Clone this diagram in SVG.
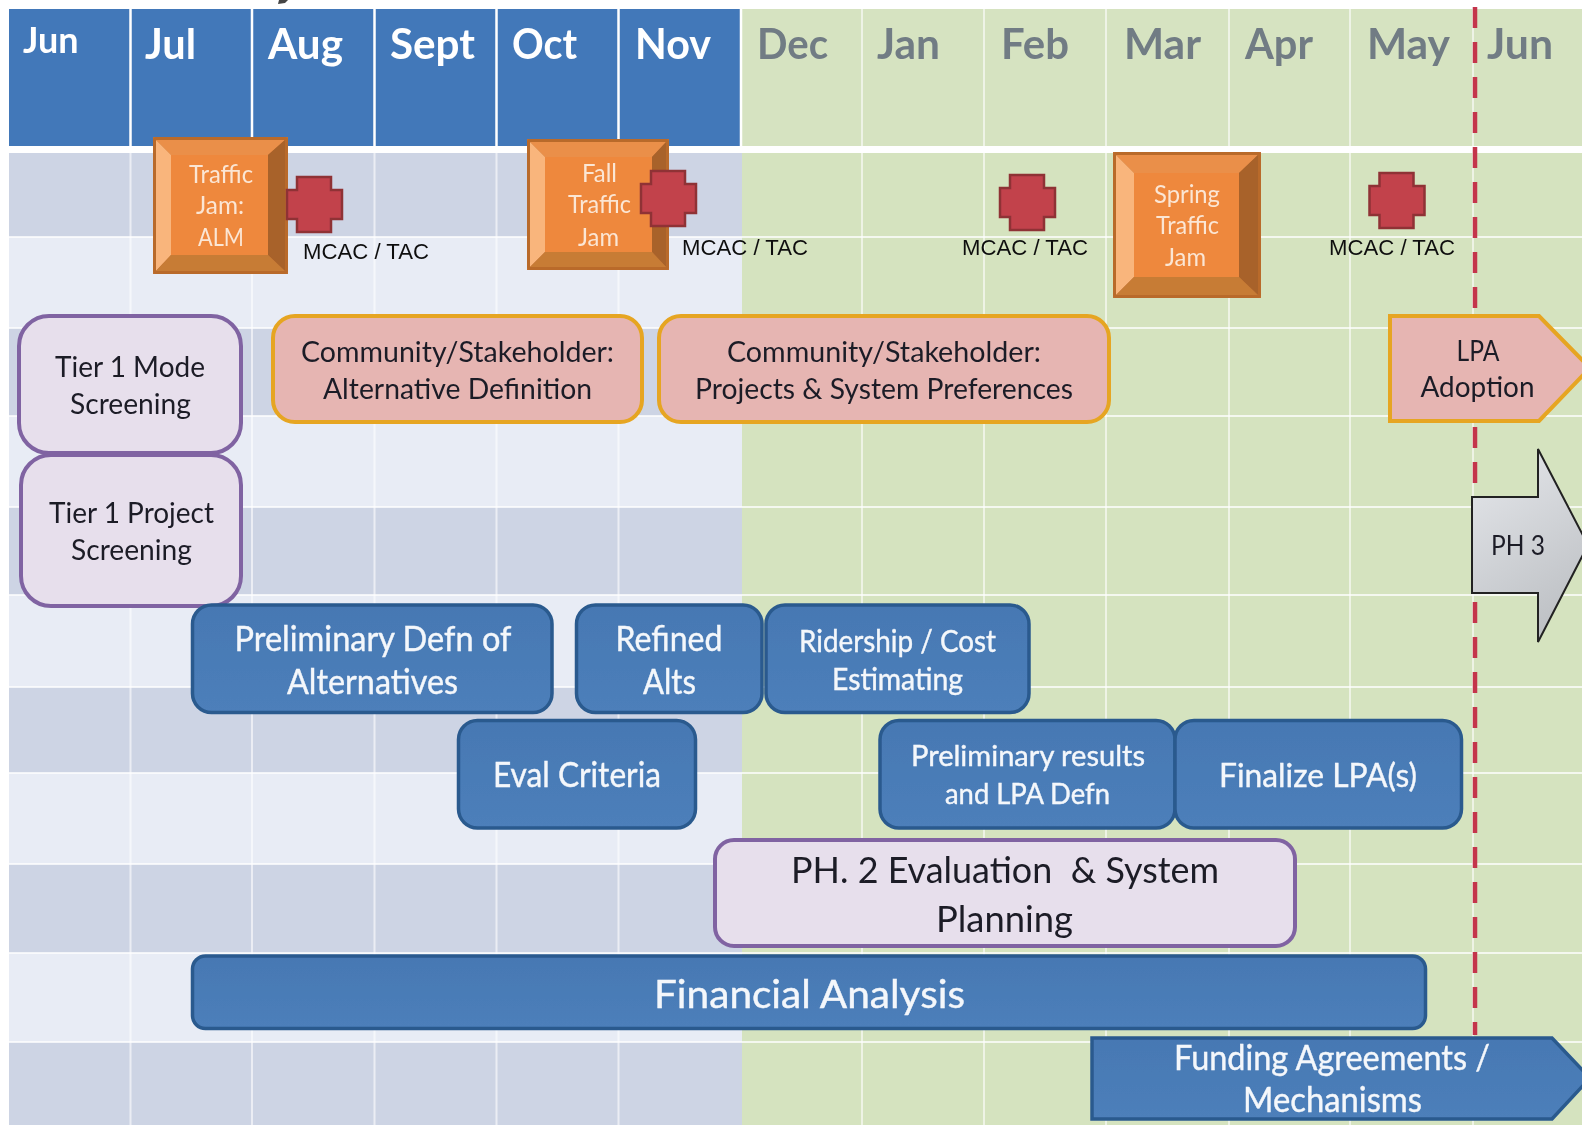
<svg xmlns="http://www.w3.org/2000/svg" width="1582" height="1125" viewBox="0 0 1582 1125">
<style>
text{font-family:"Lato","Carlito","Open Sans",sans-serif;text-anchor:middle}
.mo{font-size:42px;font-weight:700;text-anchor:start;fill:#fff}
.mg{fill:#717c84}
.dk{fill:#1d1d28}
.wh{fill:#f4f7fb;stroke:#f4f7fb;stroke-width:.4}
.ps{fill:#fbe6d4;font-size:25px}
.mc{font-family:"Liberation Sans",Arial,sans-serif;font-size:21.5px;fill:#111}
.blue{fill:url(#bl);stroke:#2a5a8e;stroke-width:3.5}
.purp{fill:#e7dfec;stroke:#8064a2;stroke-width:4}
.pink{fill:#e6b5b2;stroke:#e6a520;stroke-width:4}
.cross{fill:#c2424c;stroke:#8f3136;stroke-width:2.5}
.vh{stroke:#fff;stroke-width:2.5}
.vl{stroke:#fff;stroke-width:2;opacity:.6}
.hl{stroke:#fff;stroke-width:2;opacity:.75}
.edge{fill:none;stroke:#b96a2c;stroke-width:3;stroke-linejoin:round}
</style>
<defs>
<linearGradient id="bl" x1="0" y1="0" x2="0" y2="1"><stop offset="0" stop-color="#4678b3"/><stop offset="1" stop-color="#4d7fba"/></linearGradient>
<linearGradient id="gy" x1="0" y1="0" x2="0.4" y2="1"><stop offset="0" stop-color="#e6e8ec"/><stop offset="1" stop-color="#bfc2c6"/></linearGradient>
<filter id="soft" x="0" y="0" width="100%" height="100%"><feGaussianBlur stdDeviation="0.5"/></filter>
<polygon id="crs" points="11,1 45,1 45,14 56,14 56,43 45,43 45,56 11,56 11,43 1,43 1,14 11,14" class="cross"/>
</defs>
<rect width="1582" height="1125" fill="#fff"/>
<g filter="url(#soft)">
<g id="background">
<rect x="9" y="9" width="733" height="137" fill="#4378b9"/>
<rect x="742" y="9" width="840" height="137" fill="#d6e3c1"/>
<rect x="9" y="153" width="733" height="972" fill="#e8ecf5"/>
<g fill="#cdd4e4">
<rect x="9" y="153" width="733" height="84"/>
<rect x="9" y="328" width="733" height="88"/>
<rect x="9" y="507" width="733" height="88"/>
<rect x="9" y="687" width="733" height="86"/>
<rect x="9" y="864" width="733" height="89"/>
<rect x="9" y="1042" width="733" height="83"/>
</g>
<rect x="742" y="153" width="840" height="972" fill="#d5e3bf"/>
<rect x="9" y="146" width="1573" height="7" fill="#fff"/>
<g class="vh">
<line x1="130.500" y1="9" x2="130.500" y2="146"/><line x1="252" y1="9" x2="252" y2="146"/><line x1="374.500" y1="9" x2="374.500" y2="146"/><line x1="496.500" y1="9" x2="496.500" y2="146"/><line x1="618.500" y1="9" x2="618.500" y2="146"/><line x1="741" y1="9" x2="741" y2="146"/>
</g>
<g class="vl">
<line x1="130.500" y1="153" x2="130.500" y2="1125"/><line x1="252" y1="153" x2="252" y2="1125"/><line x1="374.500" y1="153" x2="374.500" y2="1125"/><line x1="496.500" y1="153" x2="496.500" y2="1125"/><line x1="618.500" y1="153" x2="618.500" y2="1125"/><line x1="862" y1="9" x2="862" y2="1125"/><line x1="984" y1="9" x2="984" y2="1125"/><line x1="1106" y1="9" x2="1106" y2="1125"/><line x1="1229" y1="9" x2="1229" y2="1125"/><line x1="1350" y1="9" x2="1350" y2="1125"/><line x1="1473" y1="9" x2="1473" y2="1125"/>
</g>
<g class="hl">
<line x1="9" y1="237" x2="1582" y2="237"/><line x1="9" y1="328" x2="1582" y2="328"/><line x1="9" y1="416" x2="1582" y2="416"/><line x1="9" y1="507" x2="1582" y2="507"/><line x1="9" y1="595" x2="1582" y2="595"/><line x1="9" y1="687" x2="1582" y2="687"/><line x1="9" y1="773" x2="1582" y2="773"/><line x1="9" y1="864" x2="1582" y2="864"/><line x1="9" y1="953" x2="1582" y2="953"/><line x1="9" y1="1042" x2="1582" y2="1042"/>
</g>
<polygon id="top-mark" points="279,0 288,0 285,3 278,4" fill="#444"/>
</g>
<g id="months">
<text class="mo" x="23" y="53" style="font-size:36px" textLength="55.500" lengthAdjust="spacingAndGlyphs">Jun</text>
<text class="mo" x="145" y="59" textLength="51" lengthAdjust="spacingAndGlyphs">Jul</text>
<text class="mo" x="268" y="59" textLength="75" lengthAdjust="spacingAndGlyphs">Aug</text>
<text class="mo" x="390" y="59" textLength="85" lengthAdjust="spacingAndGlyphs">Sept</text>
<text class="mo" x="512" y="59" textLength="65" lengthAdjust="spacingAndGlyphs">Oct</text>
<text class="mo" x="635" y="59" textLength="76" lengthAdjust="spacingAndGlyphs">Nov</text>
<text class="mo mg" x="757" y="59" textLength="71" lengthAdjust="spacingAndGlyphs">Dec</text>
<text class="mo mg" x="877" y="59" textLength="63" lengthAdjust="spacingAndGlyphs">Jan</text>
<text class="mo mg" x="1001" y="59" textLength="68" lengthAdjust="spacingAndGlyphs">Feb</text>
<text class="mo mg" x="1124" y="59" textLength="77" lengthAdjust="spacingAndGlyphs">Mar</text>
<text class="mo mg" x="1245" y="59" textLength="68" lengthAdjust="spacingAndGlyphs">Apr</text>
<text class="mo mg" x="1367" y="59" textLength="83" lengthAdjust="spacingAndGlyphs">May</text>
<text class="mo mg" x="1487" y="59" textLength="66" lengthAdjust="spacingAndGlyphs">Jun</text>
</g>
<g id="connectors">
<line id="lpa-deadline" x1="1475" y1="7" x2="1475" y2="1035" stroke="#c4354b" stroke-width="4.500" stroke-dasharray="21 14"/>
</g>
<g id="traffic-jam-alm">
<rect x="153" y="137" width="135" height="137" fill="#c07030"/>
<polygon points="155,139 286,139 268,155 171,155" fill="#ea8f4a"/>
<polygon points="155,139 171,155 171,255 155,272" fill="#f9b57c"/>
<polygon points="286,139 286,272 268,255 268,155" fill="#a8622a"/>
<polygon points="155,272 171,255 268,255 286,272" fill="#c77b36"/>
<rect x="171" y="155" width="97" height="100" fill="#ee883e"/>
<rect class="edge" x="154.500" y="138.500" width="132" height="134" rx="2"/>
<text class="ps" x="221" y="183" textLength="64" lengthAdjust="spacingAndGlyphs">Traffic</text>
<text class="ps" x="220" y="214" textLength="48" lengthAdjust="spacingAndGlyphs">Jam:</text>
<text class="ps" x="221" y="246" textLength="46" lengthAdjust="spacingAndGlyphs">ALM</text>
</g>
<g id="traffic-jam-fall">
<rect x="527" y="139" width="142" height="131" fill="#c07030"/>
<polygon points="529,141 667,141 652,157 545,157" fill="#ea8f4a"/>
<polygon points="529,141 545,157 545,252 529,268" fill="#f9b57c"/>
<polygon points="667,141 667,268 652,252 652,157" fill="#a8622a"/>
<polygon points="529,268 545,252 652,252 667,268" fill="#c77b36"/>
<rect x="545" y="157" width="107" height="95" fill="#ee883e"/>
<rect class="edge" x="528.500" y="140.500" width="139" height="128" rx="2"/>
<text class="ps" x="599.500" y="182" textLength="35" lengthAdjust="spacingAndGlyphs">Fall</text>
<text class="ps" x="599.500" y="213" textLength="63" lengthAdjust="spacingAndGlyphs">Traffic</text>
<text class="ps" x="598.500" y="246" textLength="41" lengthAdjust="spacingAndGlyphs">Jam</text>
</g>
<g id="traffic-jam-spring">
<rect x="1113" y="152" width="148" height="146" fill="#c07030"/>
<polygon points="1115,154 1259,154 1239,173 1134,173" fill="#ea8f4a"/>
<polygon points="1115,154 1134,173 1134,277 1115,296" fill="#f9b57c"/>
<polygon points="1259,154 1259,296 1239,277 1239,173" fill="#a8622a"/>
<polygon points="1115,296 1134,277 1239,277 1259,296" fill="#c77b36"/>
<rect x="1134" y="173" width="105" height="104" fill="#ee883e"/>
<rect class="edge" x="1114.500" y="153.500" width="145" height="143" rx="2"/>
<text class="ps" x="1187" y="203" textLength="66" lengthAdjust="spacingAndGlyphs">Spring</text>
<text class="ps" x="1187.500" y="234" textLength="63" lengthAdjust="spacingAndGlyphs">Traffic</text>
<text class="ps" x="1185.500" y="266" textLength="41" lengthAdjust="spacingAndGlyphs">Jam</text>
</g>
<g id="mcac-1"><use href="#crs" x="286" y="176"/><text class="mc" x="366" y="259" textLength="126" lengthAdjust="spacingAndGlyphs">MCAC / TAC</text></g>
<g id="mcac-2"><use href="#crs" x="640" y="170"/><text class="mc" x="745" y="255" textLength="126" lengthAdjust="spacingAndGlyphs">MCAC / TAC</text></g>
<g id="mcac-3"><use href="#crs" x="999" y="174"/><text class="mc" x="1025" y="255" textLength="126" lengthAdjust="spacingAndGlyphs">MCAC / TAC</text></g>
<g id="mcac-4"><use href="#crs" x="1368.500" y="172"/><text class="mc" x="1392" y="255" textLength="126" lengthAdjust="spacingAndGlyphs">MCAC / TAC</text></g>
<g id="tier1-mode">
<rect class="purp" x="19" y="316" width="222" height="137" rx="30"/>
<text class="dk" style="font-size:29px" x="130" y="377" textLength="150" lengthAdjust="spacingAndGlyphs">Tier 1 Mode</text>
<text class="dk" style="font-size:29px" x="130.500" y="414" textLength="121" lengthAdjust="spacingAndGlyphs">Screening</text>
</g>
<g id="tier1-project">
<rect class="purp" x="21" y="455" width="220" height="151" rx="30"/>
<text class="dk" style="font-size:29px" x="131.500" y="523" textLength="165" lengthAdjust="spacingAndGlyphs">Tier 1 Project</text>
<text class="dk" style="font-size:29px" x="131.500" y="560" textLength="121" lengthAdjust="spacingAndGlyphs">Screening</text>
</g>
<g id="community-alternative">
<rect class="pink" x="273" y="316" width="369" height="106" rx="22"/>
<text class="dk" style="font-size:29px" x="457.500" y="362" textLength="313" lengthAdjust="spacingAndGlyphs">Community/Stakeholder:</text>
<text class="dk" style="font-size:29px" x="457.500" y="399" textLength="269" lengthAdjust="spacingAndGlyphs">Alternative Definition</text>
</g>
<g id="community-projects">
<rect class="pink" x="659" y="316" width="450" height="106" rx="22"/>
<text class="dk" style="font-size:29px" x="884" y="362" textLength="314" lengthAdjust="spacingAndGlyphs">Community/Stakeholder:</text>
<text class="dk" style="font-size:29px" x="884" y="399" textLength="378" lengthAdjust="spacingAndGlyphs">Projects &amp; System Preferences</text>
</g>
<g id="lpa-adoption">
<polygon class="pink" points="1390,316 1539,316 1590,368 1539,421 1390,421"/>
<text class="dk" style="font-size:28px" x="1478" y="361" textLength="43" lengthAdjust="spacingAndGlyphs">LPA</text>
<text class="dk" style="font-size:28px" x="1477.500" y="397" textLength="114" lengthAdjust="spacingAndGlyphs">Adoption</text>
</g>
<g id="ph3">
<polygon points="1472,497 1538,497 1538,449 1588,545 1538,642 1538,593 1472,593" fill="url(#gy)" stroke="#222" stroke-width="2"/>
<text class="dk" style="font-size:27px" x="1518" y="555" textLength="54" lengthAdjust="spacingAndGlyphs">PH 3</text>
</g>
<g id="prelim-defn">
<rect class="blue" x="192.500" y="605" width="359.500" height="107.500" rx="19"/>
<text class="wh" style="font-size:34px" x="373" y="651" textLength="277" lengthAdjust="spacingAndGlyphs">Preliminary Defn of</text>
<text class="wh" style="font-size:34px" x="372.500" y="694" textLength="171" lengthAdjust="spacingAndGlyphs">Alternatives</text>
</g>
<g id="refined-alts">
<rect class="blue" x="576.500" y="605" width="185.500" height="107.500" rx="19"/>
<text class="wh" style="font-size:34px" x="669" y="651" textLength="107" lengthAdjust="spacingAndGlyphs">Refined</text>
<text class="wh" style="font-size:34px" x="669.500" y="694" textLength="53" lengthAdjust="spacingAndGlyphs">Alts</text>
</g>
<g id="ridership-cost">
<rect class="blue" x="766" y="605" width="263" height="107.500" rx="19"/>
<text class="wh" style="font-size:30px" x="897.500" y="652" textLength="197" lengthAdjust="spacingAndGlyphs">Ridership / Cost</text>
<text class="wh" style="font-size:30px" x="897.500" y="690" textLength="131" lengthAdjust="spacingAndGlyphs">Estimating</text>
</g>
<g id="eval-criteria">
<rect class="blue" x="458.500" y="720.500" width="237" height="107.500" rx="19"/>
<text class="wh" style="font-size:34px" x="577" y="787" textLength="168" lengthAdjust="spacingAndGlyphs">Eval Criteria</text>
</g>
<g id="prelim-results">
<rect class="blue" x="880" y="720.500" width="295" height="107.500" rx="19"/>
<text class="wh" style="font-size:29px" x="1028" y="766" textLength="234" lengthAdjust="spacingAndGlyphs">Preliminary results</text>
<text class="wh" style="font-size:29px" x="1027.500" y="804" textLength="165" lengthAdjust="spacingAndGlyphs">and LPA Defn</text>
</g>
<g id="finalize-lpa">
<rect class="blue" x="1175" y="720.500" width="286.500" height="107.500" rx="19"/>
<text class="wh" style="font-size:33px" x="1318" y="787" textLength="198" lengthAdjust="spacingAndGlyphs">Finalize LPA(s)</text>
</g>
<g id="ph2-evaluation">
<rect class="purp" x="715" y="840" width="580" height="106" rx="19"/>
<text class="dk" style="font-size:37px" x="1005" y="883" xml:space="preserve" textLength="428" lengthAdjust="spacingAndGlyphs">PH. 2 Evaluation  &amp; System</text>
<text class="dk" style="font-size:37px" x="1004.500" y="932" textLength="137" lengthAdjust="spacingAndGlyphs">Planning</text>
</g>
<g id="financial-analysis">
<rect class="blue" x="192.500" y="956" width="1233" height="72.500" rx="13"/>
<text class="wh" style="font-size:38px" x="809.500" y="1008" textLength="311" lengthAdjust="spacingAndGlyphs">Financial Analysis</text>
</g>
<g id="funding-agreements">
<polygon class="blue" points="1092,1038 1552,1038 1590,1078 1552,1119 1092,1119"/>
<text class="wh" style="font-size:34px" x="1332" y="1070" textLength="316" lengthAdjust="spacingAndGlyphs">Funding Agreements /</text>
<text class="wh" style="font-size:34px" x="1332.500" y="1112" textLength="179" lengthAdjust="spacingAndGlyphs">Mechanisms</text>
</g>
</g>
</svg>
